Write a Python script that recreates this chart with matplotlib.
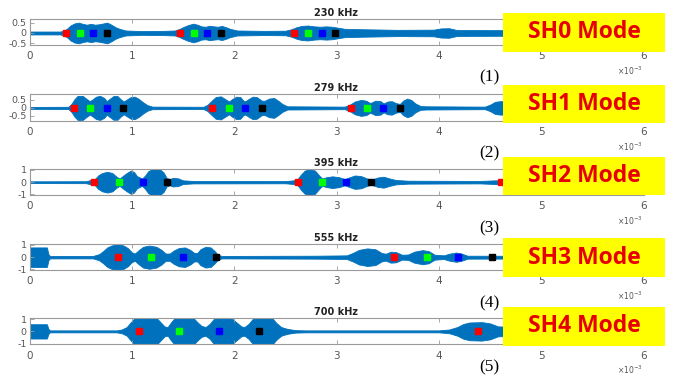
import matplotlib
matplotlib.use("Agg")
import matplotlib.pyplot as plt
from matplotlib.patches import Rectangle

# ---------------- data (times in ms, i.e. x 10^-3 s) ----------------
titles = ["230 kHz", "279 kHz", "395 kHz", "555 kHz", "700 kHz"]
mode_labels = ["SH0 Mode", "SH1 Mode", "SH2 Mode", "SH3 Mode", "SH4 Mode"]
panel_tags = ["(1)", "(2)", "(3)", "(4)", "(5)"]

# envelope of each signal: time knots and amplitude
p1_t = [0, 0.30, 0.34, 0.37, 0.40, 0.44, 0.48, 0.52, 0.56, 0.60, 0.64, 0.68, 0.72, 0.76, 0.80,
        0.84, 0.88, 0.94, 1.10, 1.30, 1.42, 1.46, 1.50, 1.55, 1.60, 1.64, 1.68, 1.72, 1.76, 1.80,
        1.84, 1.88, 1.92, 1.96, 2.03, 2.30, 2.50, 2.56, 2.61, 2.66, 2.72, 2.78, 2.84, 2.90, 2.96,
        3.02, 3.08, 3.26, 3.60, 3.95, 4.02, 4.10, 4.17, 4.30, 6.0]
p1_a = [0.07, 0.07, 0.12, 0.22, 0.36, 0.46, 0.50, 0.44, 0.40, 0.44, 0.40, 0.42, 0.46, 0.50, 0.40,
        0.28, 0.20, 0.12, 0.09, 0.10, 0.12, 0.18, 0.28, 0.38, 0.45, 0.40, 0.32, 0.30, 0.35, 0.32,
        0.30, 0.34, 0.28, 0.20, 0.12, 0.10, 0.11, 0.18, 0.28, 0.34, 0.36, 0.32, 0.30, 0.32, 0.30,
        0.25, 0.20, 0.18, 0.15, 0.16, 0.22, 0.23, 0.15, 0.14, 0.12]

p2_t = [0, 0.38, 0.41, 0.44, 0.47, 0.52, 0.56, 0.59, 0.62, 0.65, 0.69, 0.73, 0.755, 0.78, 0.82,
        0.86, 0.89, 0.92, 0.95, 0.99, 1.03, 1.07, 1.11, 1.15, 1.20, 1.70, 1.74, 1.78, 1.82, 1.87,
        1.92, 1.95, 1.98, 2.02, 2.06, 2.09, 2.11, 2.14, 2.18, 2.22, 2.27, 2.30, 2.34, 2.39, 2.43,
        2.47, 2.52, 3.08, 3.13, 3.18, 3.24, 3.29, 3.33, 3.38, 3.43, 3.46, 3.50, 3.54, 3.58, 3.62,
        3.65, 3.69, 3.73, 3.77, 3.82, 3.88, 4.45, 4.50, 4.55, 4.60, 6.0]
p2_a = [0.06, 0.07, 0.25, 0.55, 0.75, 0.75, 0.55, 0.42, 0.55, 0.70, 0.75, 0.62, 0.42, 0.55, 0.74,
        0.74, 0.55, 0.40, 0.52, 0.68, 0.70, 0.55, 0.35, 0.18, 0.08, 0.07, 0.20, 0.45, 0.68, 0.72,
        0.52, 0.40, 0.55, 0.70, 0.68, 0.45, 0.42, 0.55, 0.70, 0.68, 0.45, 0.45, 0.58, 0.62, 0.45,
        0.25, 0.10, 0.08, 0.20, 0.40, 0.50, 0.45, 0.30, 0.45, 0.42, 0.28, 0.40, 0.42, 0.30, 0.25,
        0.45, 0.58, 0.50, 0.28, 0.12, 0.10, 0.08, 0.20, 0.38, 0.42, 0.40]

p3_t = [0, 0.55, 0.60, 0.64, 0.67, 0.71, 0.76, 0.81, 0.85, 0.88, 0.91, 0.95, 0.99, 1.02, 1.05,
        1.10, 1.13, 1.16, 1.20, 1.27, 1.31, 1.34, 1.37, 1.40, 1.45, 1.50, 1.60, 2.50, 2.58, 2.62,
        2.65, 2.69, 2.74, 2.79, 2.83, 2.86, 2.90, 2.96, 3.03, 3.08, 3.12, 3.18, 3.24, 3.30, 3.34,
        3.40, 3.46, 3.52, 3.58, 3.70, 4.40, 4.55, 6.0]
p3_a = [0.07, 0.08, 0.18, 0.25, 0.55, 0.75, 0.85, 0.75, 0.45, 0.30, 0.50, 0.75, 0.95, 0.85, 0.50,
        0.30, 0.55, 0.90, 1.08, 1.08, 0.80, 0.35, 0.25, 0.35, 0.32, 0.15, 0.10, 0.09, 0.15, 0.25,
        0.60, 0.95, 1.05, 0.95, 0.55, 0.30, 0.40, 0.48, 0.40, 0.25, 0.38, 0.55, 0.50, 0.30, 0.20,
        0.38, 0.45, 0.30, 0.18, 0.12, 0.10, 0.15, 0.18]

p4_t = [0, 0.01, 0.17, 0.185, 0.20, 0.62, 0.68, 0.72, 0.76, 0.80, 0.86, 0.92, 0.96, 1.00, 1.03,
        1.07, 1.11, 1.17, 1.24, 1.29, 1.33, 1.37, 1.41, 1.46, 1.52, 1.57, 1.61, 1.64, 1.67, 1.72,
        1.77, 1.81, 1.84, 1.88, 2.80, 3.10, 3.16, 3.22, 3.30, 3.38, 3.44, 3.48, 3.53, 3.58, 3.64,
        3.70, 3.76, 3.84, 3.90, 3.96, 4.05, 4.10, 4.17, 4.22, 4.28, 6.0]
p4_a = [0.70, 0.80, 0.80, 0.25, 0.10, 0.10, 0.25, 0.50, 0.80, 0.95, 1.08, 0.95, 0.75, 0.40, 0.30,
        0.60, 0.85, 0.95, 0.85, 0.60, 0.30, 0.30, 0.55, 0.75, 0.80, 0.60, 0.35, 0.35, 0.65, 0.85,
        0.80, 0.50, 0.20, 0.10, 0.12, 0.15, 0.35, 0.60, 0.72, 0.65, 0.35, 0.28, 0.45, 0.42, 0.20,
        0.22, 0.45, 0.58, 0.50, 0.20, 0.15, 0.28, 0.38, 0.30, 0.12, 0.10]

p5_t = [0, 0.01, 0.17, 0.185, 0.20, 0.85, 0.90, 0.95, 0.99, 1.03, 1.24, 1.28, 1.32, 1.35, 1.38,
        1.42, 1.60, 1.64, 1.68, 1.72, 1.76, 1.80, 1.84, 1.97, 2.02, 2.07, 2.10, 2.14, 2.18, 2.22,
        2.37, 2.41, 2.46, 2.52, 2.60, 2.70, 4.00, 4.10, 4.18, 4.24, 4.30, 4.42, 4.50, 4.58, 6.0]
p5_a = [0.50, 0.58, 0.58, 0.20, 0.08, 0.08, 0.15, 0.35, 0.75, 1.10, 1.10, 0.75, 0.40, 0.35, 0.70,
        1.10, 1.10, 0.75, 0.45, 0.35, 0.60, 1.00, 1.10, 1.10, 0.75, 0.40, 0.35, 0.60, 1.00, 1.10,
        1.10, 0.70, 0.35, 0.20, 0.10, 0.08, 0.08, 0.15, 0.35, 0.60, 0.72, 0.75, 0.65, 0.40, 0.30]

env_t = [p1_t, p2_t, p3_t, p4_t, p5_t]
env_a = [p1_a, p2_a, p3_a, p4_a, p5_a]

# square markers (time in ms), colour order red, green, blue, black repeating
m1_t = [0.357, 0.494, 0.621, 0.758, 1.471, 1.608, 1.735, 1.872, 2.586, 2.722, 2.860, 2.986]
m2_t = [0.435, 0.591, 0.755, 0.917, 1.784, 1.950, 2.109, 2.272, 3.140, 3.300, 3.458, 3.622]
m3_t = [0.633, 0.875, 1.107, 1.347, 2.628, 2.862, 3.094, 3.335, 4.609]
m4_t = [0.868, 1.188, 1.497, 1.820, 3.563, 3.883, 4.192, 4.518]
m5_t = [1.070, 1.461, 1.852, 2.243, 4.381]
marker_t = [m1_t, m2_t, m3_t, m4_t, m5_t]
marker_colors = ["#FF0000", "#00FF00", "#0000FF", "#000000"]

yticks = [[-0.5, 0, 0.5], [-0.5, 0, 0.5], [-1, 0, 1], [-1, 0, 1], [-1, 0, 1]]
yticklabels = [["-0.5", "0", "0.5"], ["-0.5", "0", "0.5"], ["-1", "0", "1"], ["-1", "0", "1"], ["-1", "0", "1"]]
ylims = [(-0.58, 0.66), (-0.8, 0.85), (-1.05, 1.08), (-1.05, 1.08), (-1.05, 1.06)]
xticks = [0, 1, 2, 3, 4, 5, 6]

# ---------------- layout (pixels) ----------------
W, H = 676, 381
ax_left, ax_right = 29.5, 643.5
ax_tops = [19.3, 94.3, 169.0, 244.0, 318.3]
ax_bots = [45.0, 120.7, 195.0, 270.0, 344.3]
box_x0, box_x1 = 503, 665
box_y = [(13, 52), (85, 123), (157, 195), (238, 277), (307, 346)]
tag_x = 489
tag_y = [77, 153, 228, 303, 367]
sig_color = "#0072BD"
tick_color = "#555555"
spine_color = "#9a9a9a"

fig = plt.figure(figsize=(W / 100, H / 100), dpi=100)
fig.patch.set_facecolor("white")

for i in range(5):
    t, b = ax_tops[i], ax_bots[i]
    ax = fig.add_axes([ax_left / W, 1 - b / H, (ax_right - ax_left) / W, (b - t) / H])
    a = env_a[i]
    ax.fill_between(env_t[i], [-v for v in a], a, color=sig_color, lw=0.6, edgecolor=sig_color)
    for k, mt in enumerate(marker_t[i]):
        ax.plot([mt], [0], marker="s", ms=5, color=marker_colors[k % 4], mec=marker_colors[k % 4],
                ls="none", zorder=3)
    ax.set_xlim(0, 6)
    ax.set_ylim(*ylims[i])
    ax.set_xticks(xticks)
    ax.set_xticklabels([str(v) for v in xticks])
    ax.set_yticks(yticks[i])
    ax.set_yticklabels(yticklabels[i])
    ax.tick_params(axis="both", direction="in", length=3, width=0.6, color=spine_color,
                   labelcolor=tick_color, top=True, right=True)
    ax.tick_params(axis="x", pad=4.5, labelsize=7.5)
    ax.tick_params(axis="y", pad=2, labelsize=6.8)
    for s in ax.spines.values():
        s.set_color(spine_color)
        s.set_linewidth(0.8)
    ax.set_title(titles[i], fontsize=7, fontweight="bold", pad=2.5, color="#222222")
    # x10^-3 multiplier
    fig.text(630 / W, 1 - (b + 26) / H, r"$\times10^{-3}$", fontsize=5.5, color=tick_color,
             ha="center", va="center")
    # panel tag
    fig.text(tag_x / W, 1 - tag_y[i] / H, panel_tags[i], fontsize=12.5, family="Liberation Serif",
             ha="center", va="center", color="black")
    # yellow mode box
    y0, y1 = box_y[i]
    fig.add_artist(Rectangle((box_x0 / W, 1 - y1 / H), (box_x1 - box_x0) / W, (y1 - y0) / H,
                             transform=fig.transFigure, facecolor="#FFFF00", edgecolor="none",
                             zorder=5))
    fig.text((box_x0 + box_x1) / 2 / W, 1 - (y0 + y1) / 2 / H, mode_labels[i], fontsize=16.5,
             fontweight="bold", family="Open Sans", color="#E60000", ha="center", va="center",
             zorder=6)

fig.savefig("out.png", dpi=100)
